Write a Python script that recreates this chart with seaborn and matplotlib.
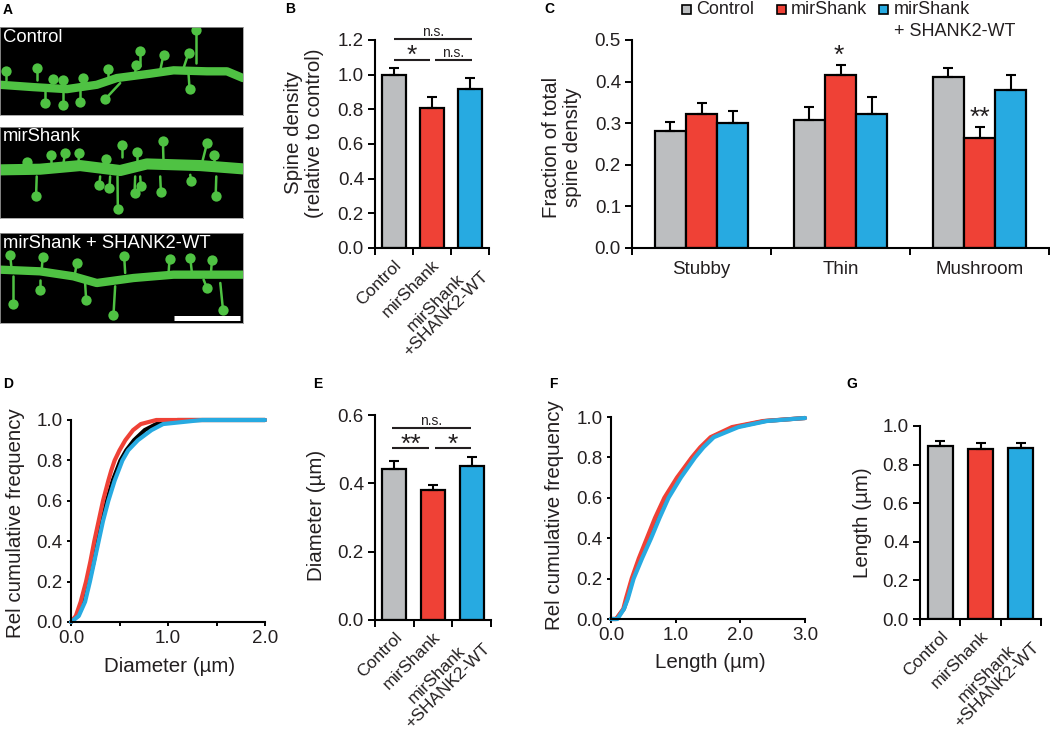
"""
Spine density / morphology figure, panels A-G
"""
import numpy as np
import pandas as pd
import matplotlib
matplotlib.use("Agg")
import matplotlib.pyplot as plt
from matplotlib.patches import Rectangle
import seaborn as sns

sns.set_theme(style="ticks")
plt.rcParams["font.family"] = ["Liberation Sans", "DejaVu Sans"]
plt.rcParams["axes.unicode_minus"] = False

W, H = 1050, 735
TXT = "#231f20"
GRAY, RED, BLUE = "#bcbec0", "#ef4136", "#27aae1"
GREEN = "#4fc243"
FS_TICK = 13.5
FS_LABEL = 14.8

# ── data ──────────────────────────────────────────────────────────────────────
groups = ["Control", "mirShank", "mirShank\n+SHANK2-WT"]
legend_groups = ["Control", "mirShank", "mirShank\n+ SHANK2-WT"]
spine_types = ["Stubby", "Thin", "Mushroom"]

density_mean = [1.0, 0.81, 0.915]
density_err = [0.04, 0.06, 0.065]

frac_control = [0.282, 0.308, 0.41]
frac_mir = [0.322, 0.415, 0.265]
frac_rescue = [0.30, 0.322, 0.38]
frac_control_err = [0.022, 0.03, 0.022]
frac_mir_err = [0.026, 0.025, 0.026]
frac_rescue_err = [0.03, 0.04, 0.035]

diam_mean = [0.443, 0.38, 0.45]
diam_err = [0.022, 0.014, 0.026]
length_mean = [0.897, 0.88, 0.885]
length_err = [0.027, 0.033, 0.028]

# cumulative curves
freq_d = [0.0, 0.03, 0.1, 0.2, 0.3, 0.4, 0.5, 0.6, 0.7, 0.75, 0.8, 0.85, 0.9, 0.95, 0.98, 1.0]
diam_x_red = [0.0, 0.05, 0.10, 0.155, 0.20, 0.24, 0.285, 0.33, 0.385, 0.415, 0.45, 0.50, 0.56, 0.64, 0.72, 0.88]
diam_x_black = [0.0, 0.07, 0.135, 0.185, 0.235, 0.275, 0.32, 0.37, 0.43, 0.47, 0.51, 0.57, 0.65, 0.76, 0.88, 1.10]
diam_x_blue = [0.0, 0.08, 0.145, 0.195, 0.24, 0.285, 0.33, 0.385, 0.45, 0.49, 0.53, 0.59, 0.69, 0.83, 0.95, 1.35]
diam_x_tail = 2.0

freq_f = [0.0, 0.05, 0.1, 0.2, 0.3, 0.4, 0.5, 0.6, 0.7, 0.8, 0.85, 0.9, 0.95, 0.98, 0.995]
len_x_red = [0.08, 0.19, 0.23, 0.32, 0.43, 0.555, 0.68, 0.825, 1.02, 1.25, 1.38, 1.54, 1.87, 2.35, 3.0]
len_x_gray = [0.08, 0.20, 0.25, 0.335, 0.455, 0.585, 0.71, 0.86, 1.04, 1.26, 1.40, 1.56, 1.92, 2.38, 3.0]
len_x_blue = [0.10, 0.20, 0.26, 0.35, 0.48, 0.62, 0.75, 0.89, 1.08, 1.30, 1.43, 1.59, 1.97, 2.41, 3.0]

# micrographs: dendrite path + spines (base x, base y, tip x, tip y), 3x crop px
dend_1_x = [0, 100, 200, 290, 350, 450, 520, 620, 680, 728]
dend_1_y = [255, 262, 268, 255, 235, 222, 212, 215, 215, 235]
spines_1 = [(18, 240, 18, 215), (112, 240, 112, 205), (160, 250, 160, 238), (190, 250, 188, 240),
            (248, 245, 248, 234), (325, 230, 325, 207), (405, 222, 407, 195), (480, 212, 490, 165),
            (550, 205, 565, 160), (565, 225, 568, 268), (360, 250, 315, 298), (240, 265, 240, 305),
            (190, 265, 190, 315), (135, 272, 135, 310), (420, 200, 420, 155), (588, 190, 588, 92)]
dend_2_x = [0, 120, 240, 360, 440, 600, 728]
dend_2_y = [510, 508, 497, 512, 492, 497, 507]
spines_2 = [(80, 495, 80, 485), (152, 495, 152, 465), (190, 490, 195, 460), (235, 490, 237, 458),
            (318, 500, 318, 478), (410, 490, 410, 455), (490, 490, 488, 422), (605, 490, 620, 430),
            (640, 490, 640, 465), (365, 470, 365, 435), (110, 530, 108, 590), (300, 530, 298, 555),
            (330, 530, 328, 565), (352, 530, 353, 628), (405, 530, 403, 580), (420, 530, 422, 560),
            (480, 530, 482, 577), (570, 525, 572, 545), (648, 530, 646, 590)]
dend_3_x = [0, 120, 220, 290, 400, 520, 728]
dend_3_y = [810, 815, 830, 850, 835, 825, 825]
spines_3 = [(35, 810, 30, 765), (125, 810, 128, 772), (225, 820, 230, 790), (375, 820, 372, 770),
            (505, 820, 508, 778), (575, 820, 570, 775), (632, 820, 635, 780), (40, 830, 40, 912),
            (120, 840, 120, 870), (255, 850, 258, 900), (345, 860, 340, 945), (610, 840, 620, 865),
            (660, 850, 668, 930)]

fig = plt.figure(figsize=(W / 100, H / 100), dpi=100)


def px_axes(left, top, right, bottom):
    """축을 픽셀 좌표로 배치"""
    return fig.add_axes([left / W, 1 - bottom / H, (right - left) / W, (bottom - top) / H])


def fig_text(x, y, s, **kw):
    kw.setdefault("color", TXT)
    kw.setdefault("ha", "center")
    kw.setdefault("va", "center")
    return fig.text(x / W, 1 - y / H, s, **kw)


def style_axes(ax):
    sns.despine(ax=ax)
    for side in ["left", "bottom"]:
        ax.spines[side].set_linewidth(1.5)
        ax.spines[side].set_color("black")
    ax.tick_params(axis="both", which="major", length=5, width=1.4, color="black",
                   labelsize=FS_TICK, labelcolor=TXT, pad=3)
    ax.set_xlabel("")
    ax.set_ylabel("")


def bar_panel(ax, means, errs, ymax, yticks):
    sns.barplot(x=groups, y=means, hue=groups, palette=[GRAY, RED, BLUE], saturation=1,
                width=0.62, edgecolor="black", linewidth=1.6, legend=False, ax=ax)
    ax.errorbar(range(3), means, yerr=[np.zeros(3), errs], fmt="none", ecolor="black",
                elinewidth=1.5, capsize=3.5, capthick=1.5, zorder=1)
    ax.set_xlim(-0.5, 2.5)
    ax.set_ylim(0, ymax)
    ax.set_yticks(yticks)
    ax.set_yticklabels([f"{t:.1f}" for t in yticks])
    style_axes(ax)
    ax.set_xticks([-0.5, 0.5, 1.5, 2.5])
    ax.set_xticklabels([])
    ax.set_xticks([0, 1, 2], minor=True)
    ax.set_xticklabels(groups, minor=True, rotation=45, ha="right", rotation_mode="anchor",
                       multialignment="center", fontsize=12.6, color=TXT, linespacing=1.0)
    ax.tick_params(axis="x", which="minor", length=0, pad=7)


def sig_line(ax, x0, x1, y, label, fs, dy):
    ax.plot([x0, x1], [y, y], color="#231f20", lw=1.5, clip_on=False, solid_capstyle="butt")
    ax.text((x0 + x1) / 2, y + dy, label, ha="center", va="center", fontsize=fs,
            color=TXT, clip_on=False)


def micrograph(top, bottom, ymin, ymax, dx, dy, spines, lw, label):
    ax = px_axes(0, top, 243, bottom)
    ax.set_facecolor("black")
    ax.set_xlim(0, 728)
    ax.set_ylim(ymax, ymin)
    ax.set_xticks([])
    ax.set_yticks([])
    for s in ax.spines.values():
        s.set_color("#9a9a9a")
        s.set_linewidth(0.6)
    sns.lineplot(x=dx, y=dy, color=GREEN, lw=lw, sort=False, estimator=None, ax=ax)
    for x0, y0, x1, y1 in spines:
        ax.plot([x0, x1], [y0, y1], color=GREEN, lw=1.8)
    sns.scatterplot(x=[s[2] for s in spines], y=[s[3] for s in spines], color=GREEN,
                    s=55, linewidth=0, ax=ax)
    ax.set_xlabel("")
    ax.set_ylabel("")
    ax.text(8, ymin + 30, label, color="white", fontsize=13.3, ha="left", va="center")
    return ax


# ── A. 현미경 이미지 ──────────────────────────────────────────────────────────
micrograph(27, 115, 83, 345, dend_1_x, dend_1_y, spines_1, 6.0, "Control")
micrograph(127, 218, 380, 656, dend_2_x, dend_2_y, spines_2, 8.0, "mirShank")
ax_a3 = micrograph(233, 323, 700, 970, dend_3_x, dend_3_y, spines_3, 6.0, "mirShank + SHANK2-WT")
ax_a3.plot([520, 718], [955, 955], color="white", lw=3.6, solid_capstyle="butt")

# ── B. spine density ──────────────────────────────────────────────────────────
ax_b = px_axes(375, 40, 489, 248)
bar_panel(ax_b, density_mean, density_err, 1.2, [0, 0.2, 0.4, 0.6, 0.8, 1.0, 1.2])
sig_line(ax_b, 0.0, 2.04, 1.204, "n.s.", 10, 0.04)
sig_line(ax_b, 0.0, 0.96, 1.085, "*", 19, 0.025)
sig_line(ax_b, 1.07, 2.04, 1.085, "n.s.", 10, 0.04)
fig_text(304, 133, "Spine density\n(relative to control)", rotation=90, fontsize=FS_LABEL,
         linespacing=1.15, multialignment="center")

# ── C. fraction by spine type ─────────────────────────────────────────────────
frac_df = pd.DataFrame({
    "type": spine_types * 3,
    "group": np.repeat(legend_groups, 3),
    "value": frac_control + frac_mir + frac_rescue,
})
ax_c = px_axes(632, 40, 1049, 248)
sns.barplot(data=frac_df, x="type", y="value", hue="group", palette=[GRAY, RED, BLUE],
            saturation=1, width=0.67, gap=0, edgecolor="black", linewidth=1.6, legend=False, ax=ax_c)
bar_w = 0.67 / 3
frac_err = [frac_control_err, frac_mir_err, frac_rescue_err]
frac_val = [frac_control, frac_mir, frac_rescue]
for j in range(3):
    centres = np.arange(3) + (j - 1) * bar_w
    ax_c.errorbar(centres, frac_val[j], yerr=[np.zeros(3), frac_err[j]], fmt="none",
                  ecolor="black", elinewidth=1.5, capsize=3.5, capthick=1.5, zorder=1)
ax_c.set_xlim(-0.5, 2.5)
ax_c.set_ylim(0, 0.5)
ax_c.set_yticks([0, 0.1, 0.2, 0.3, 0.4, 0.5])
ax_c.set_yticklabels(["0.0", "0.1", "0.2", "0.3", "0.4", "0.5"])
style_axes(ax_c)
ax_c.set_xticks([-0.5, 0.5, 1.5, 2.5])
ax_c.set_xticklabels([])
ax_c.set_xticks([0, 1, 2], minor=True)
ax_c.set_xticklabels(spine_types, minor=True, fontsize=13.5, color=TXT)
ax_c.tick_params(axis="x", which="minor", length=0, pad=9)
ax_c.text(0.99, 0.462, "*", ha="center", va="center", fontsize=19, color=TXT)
ax_c.text(2.0, 0.312, "**", ha="center", va="center", fontsize=19, color=TXT)
fig_text(562, 147, "Fraction of total\nspine density", rotation=90, fontsize=FS_LABEL,
         linespacing=1.15, multialignment="center")

# 범례는 첫 줄 기준으로 직접 배치
for label, c, x_box, x_txt in [("Control", GRAY, 682, 696), ("mirShank", RED, 777, 791),
                               ("mirShank", BLUE, 879, 894)]:
    fig.add_artist(Rectangle((x_box / W, 1 - 14 / H), 9 / W, 9 / H, transform=fig.transFigure,
                             facecolor=c, edgecolor="black", linewidth=1.2))
    fig_text(x_txt, 10, label, ha="left", fontsize=13)
fig_text(894, 31, "+ SHANK2-WT", ha="left", fontsize=13)

# ── D. diameter cumulative ────────────────────────────────────────────────────
ax_d = px_axes(71, 420, 265, 622)
for xs, c in [(diam_x_black, "black"), (diam_x_red, RED), (diam_x_blue, BLUE)]:
    sns.lineplot(x=xs + [diam_x_tail], y=freq_d + [1.0], color=c, lw=3, sort=False,
                 estimator=None, ax=ax_d, clip_on=False)
ax_d.set_xlim(0, 2)
ax_d.set_ylim(0, 1)
style_axes(ax_d)
ax_d.set_xticks([0, 0.5, 1.0, 1.5, 2.0])
ax_d.set_xticklabels(["0.0", "", "1.0", "", "2.0"])
ax_d.set_yticks([0, 0.2, 0.4, 0.6, 0.8, 1.0])
ax_d.set_yticklabels(["0.0", "0.2", "0.4", "0.6", "0.8", "1.0"])
ax_d.tick_params(axis="both", length=3)
fig_text(16, 523, "Rel cumulative frequency", rotation=90, fontsize=FS_LABEL)
fig_text(170, 667, "Diameter (µm)", fontsize=FS_LABEL)

# ── E. diameter bars ──────────────────────────────────────────────────────────
ax_e = px_axes(375, 415, 491, 620)
bar_panel(ax_e, diam_mean, diam_err, 0.6, [0, 0.2, 0.4, 0.6])
sig_line(ax_e, -0.05, 1.97, 0.563, "n.s.", 10, 0.02)
sig_line(ax_e, -0.05, 0.9, 0.502, "**", 19, 0.012)
sig_line(ax_e, 1.04, 1.97, 0.502, "*", 19, 0.012)
fig_text(317, 515, "Diameter (µm)", rotation=90, fontsize=FS_LABEL)

# ── F. length cumulative ──────────────────────────────────────────────────────
ax_f = px_axes(611, 417, 805, 619)
for xs, c in [(len_x_gray, "#555555"), (len_x_red, RED), (len_x_blue, BLUE)]:
    sns.lineplot(x=[0.0] + xs, y=[0.0] + freq_f, color=c, lw=3, sort=False,
                 estimator=None, ax=ax_f, clip_on=False)
ax_f.set_xlim(0, 3)
ax_f.set_ylim(0, 1)
style_axes(ax_f)
ax_f.set_xticks([0, 1, 2, 3])
ax_f.set_xticklabels(["0.0", "1.0", "2.0", "3.0"])
ax_f.set_yticks([0, 0.2, 0.4, 0.6, 0.8, 1.0])
ax_f.set_yticklabels(["0.0", "0.2", "0.4", "0.6", "0.8", "1.0"])
ax_f.tick_params(axis="both", length=3)
fig_text(555, 515, "Rel cumulative frequency", rotation=90, fontsize=FS_LABEL)
fig_text(710, 663, "Length (µm)", fontsize=FS_LABEL)

# ── G. length bars ────────────────────────────────────────────────────────────
ax_g = px_axes(920, 426, 1041, 619)
bar_panel(ax_g, length_mean, length_err, 1.0, [0, 0.2, 0.4, 0.6, 0.8, 1.0])
fig_text(862, 523, "Length (µm)", rotation=90, fontsize=FS_LABEL)

# ── 패널 문자 ─────────────────────────────────────────────────────────────────
for letter, x, y in [("A", 8, 10), ("B", 290, 9), ("C", 549, 9), ("D", 8, 384),
                     ("E", 318, 384), ("F", 553, 384), ("G", 852, 384)]:
    fig_text(x, y, letter, fontsize=10, fontweight="bold", color="black")

fig.savefig("out.png", dpi=100)
plt.close(fig)
